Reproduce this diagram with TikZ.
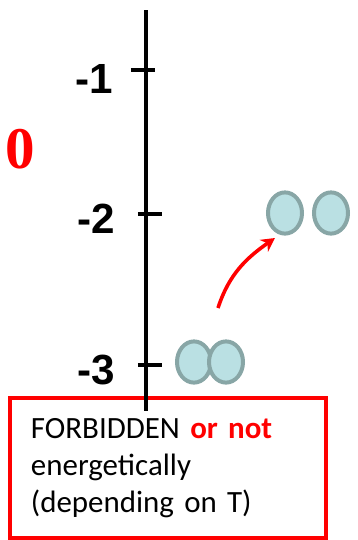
\documentclass[tikz,border=0pt]{standalone}
\usepackage{fontspec}
\setmainfont{Carlito}[WordSpace=0.7]
\newfontfamily\levelfont{Liberation Sans}
\newfontfamily\zerofont{Liberation Serif}
\usepackage{xcolor}
\usepackage{tikz}
\usetikzlibrary{shapes.geometric, arrows.meta, positioning}
\definecolor{orbfill}{RGB}{186, 224, 227}
\definecolor{orbedge}{RGB}{136, 166, 166}
\definecolor{warnred}{RGB}{255, 0, 0}

\begin{document}
\begin{tikzpicture}[
    x=0.025cm, y=-0.025cm,
    axis/.style={line width=0.1cm, black},
    tickmark/.style={line width=0.1cm, black},
    level/.style={anchor=east, font=\levelfont\bfseries\fontsize{30}{30}\selectfont},
    orb/.style={ellipse, draw=orbedge, fill=orbfill, line width=0.1cm,
                minimum width=0.85cm, minimum height=1.03cm, inner sep=0pt},
    jump/.style={-{Stealth[length=0.34cm, width=0.36cm]}, warnred, line width=0.09cm},
    note/.style={draw=warnred, line width=0.1cm, fill=white, minimum width=7.9cm,
                 minimum height=3.5cm, align=left, text width=6.85cm,
                 font=\fontsize{22}{26.5}\selectfont}
]
    \useasboundingbox (0,0) rectangle (357,540);

    % warning box
    \node[note] (box) at (168,468) {
        FORBIDDEN \textcolor{warnred}{\textbf{or not}}\\
        energetically\\
        (depending on T)
    };

    % energy axis
    \coordinate (top) at (146,10);
    \coordinate (bottom) at (146,411);
    \draw[axis] (top) -- (bottom);

    \coordinate (m1) at (143,70);
    \coordinate (m2) at (150,214);
    \coordinate (m3) at (150,365);
    \draw[tickmark] ([xshift=-0.3cm]m1) -- ([xshift=0.3cm]m1);
    \draw[tickmark] ([xshift=-0.3cm]m2) -- ([xshift=0.3cm]m2);
    \draw[tickmark] ([xshift=-0.3cm]m3) -- ([xshift=0.3cm]m3);

    \node[level] (l1) at (118,79) {-1};
    \node[level] (l2) at (120,219) {-2};
    \node[level] (l3) at (120,370) {-3};

    \node[font=\zerofont\bfseries\fontsize{42}{42}\selectfont, text=warnred]
        (zero) at (20,149) {0};

    % pairs
    \node[orb] (up1) at (285,213) {};
    \node[orb] (up2) at (331,213) {};
    \node[orb] (low1) at (194,362) {};
    \node[orb] (low2) at (226,362) {};

    \coordinate (from) at (218,308);
    \coordinate (to) at (275,238);
    \draw[jump] (from) to[out=72, in=215] (to);
\end{tikzpicture}
\end{document}
